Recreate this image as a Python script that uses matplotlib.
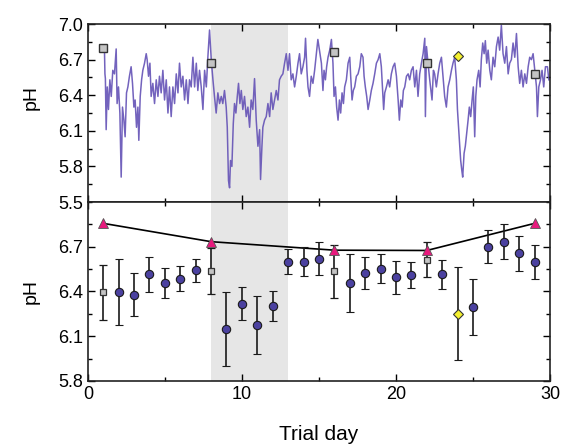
import numpy as np
import matplotlib
matplotlib.use("Agg")
import matplotlib.pyplot as plt
from matplotlib.ticker import MultipleLocator, FixedLocator

plt.rcParams['font.family'] = ['Liberation Sans', 'DejaVu Sans']

# continuous pH trace (top panel)
trace_day = [
    1.08, 1.11, 1.14, 1.19, 1.26, 1.34, 1.43, 1.52, 1.62, 1.73, 1.84, 1.90, 1.99, 2.08, 2.165,
    2.25, 2.34, 2.42, 2.51, 2.60, 2.70, 2.81, 2.90, 2.99, 3.07, 3.16, 3.25, 3.31, 3.40, 3.49,
    3.57, 3.68, 3.79, 3.85, 3.94, 4.03, 4.11, 4.22, 4.33, 4.44, 4.55, 4.65, 4.76, 4.87, 4.98,
    5.09, 5.20, 5.30, 5.41, 5.52, 5.63, 5.74, 5.85, 5.95, 6.06, 6.17, 6.28, 6.39, 6.50, 6.60,
    6.71, 6.82, 6.93, 7.04, 7.14, 7.25, 7.36, 7.47, 7.58, 7.69, 7.79, 7.90, 8.01, 8.12, 8.22,
    8.33, 8.44, 8.55, 8.66, 8.76, 8.87, 8.98, 9.05, 9.13, 9.20, 9.26, 9.35, 9.44, 9.52, 9.61,
    9.70, 9.78, 9.87, 9.96, 10.06, 10.17, 10.28, 10.39, 10.50, 10.60, 10.71, 10.82, 10.93, 11.04, 11.15,
    11.21, 11.30, 11.36, 11.47, 11.58, 11.69, 11.80, 11.90, 12.01, 12.12, 12.23, 12.34, 12.44, 12.55, 12.66,
    12.77, 12.88, 12.99, 13.09, 13.20, 13.31, 13.42, 13.53, 13.64, 13.74, 13.85, 13.96, 14.07, 14.13, 14.22,
    14.29, 14.39, 14.50, 14.61, 14.72, 14.83, 14.93, 15.16, 15.26, 15.33, 15.42, 15.50, 15.59, 15.70, 15.81,
    15.91, 15.98, 16.07, 16.15, 16.24, 16.33, 16.41, 16.50, 16.59, 16.67, 16.78, 16.89, 17.00, 17.06, 17.15,
    17.23, 17.32, 17.43, 17.54, 17.65, 17.75, 17.86, 17.93, 18.01, 18.10, 18.19, 18.30, 18.40, 18.51, 18.62,
    18.73, 18.84, 18.95, 19.05, 19.12, 19.20, 19.27, 19.38, 19.49, 19.59, 19.70, 19.81, 19.92, 20.03, 20.14,
    20.22, 20.31, 20.40, 20.48, 20.57, 20.68, 20.79, 20.89, 21.00, 21.11, 21.22, 21.33, 21.43, 21.54, 21.65,
    21.76, 21.87, 21.91, 21.98, 22.08, 22.19, 22.34, 22.43, 22.51, 22.62, 22.73, 22.84, 22.95, 23.05, 23.16,
    23.27, 23.38, 23.49, 23.60, 23.70, 23.81, 23.92, 23.99, 24.07, 24.14, 24.20, 24.27, 24.33, 24.42, 24.50,
    24.59, 24.68, 24.76, 24.85, 24.94, 25.02, 25.11, 25.18, 25.26, 25.37, 25.46, 25.54, 25.63, 25.72, 25.80,
    25.89, 25.98, 26.09, 26.19, 26.30, 26.41, 26.52, 26.63, 26.73, 26.84, 26.95, 27.06, 27.17, 27.28, 27.38,
    27.49, 27.60, 27.71, 27.82, 27.93, 28.03, 28.14, 28.25, 28.36, 28.47, 28.58, 28.68, 28.79, 28.90, 29.01,
    29.12, 29.18, 29.27, 29.38, 29.48, 29.59, 29.70, 29.83, 29.92,
]
trace_ph = [
    6.78, 6.58, 6.54, 6.11, 6.47, 6.28, 6.53, 6.39, 6.61, 6.58, 6.79, 6.33, 6.47, 6.25, 5.71,
    6.30, 6.19, 6.05, 6.42, 6.47, 6.56, 6.64, 6.50, 6.30, 6.36, 6.13, 6.30, 6.02, 6.39, 6.53,
    6.61, 6.67, 6.75, 6.70, 6.56, 6.67, 6.39, 6.50, 6.33, 6.53, 6.39, 6.56, 6.42, 6.61, 6.36,
    6.53, 6.25, 6.47, 6.22, 6.47, 6.33, 6.58, 6.42, 6.67, 6.47, 6.56, 6.36, 6.53, 6.33, 6.53,
    6.47, 6.72, 6.47, 6.67, 6.44, 6.61, 6.47, 6.28, 6.61, 6.47, 6.72, 6.95, 6.70, 6.53, 6.39,
    6.25, 6.42, 6.33, 6.39, 6.33, 6.44, 6.30, 6.13, 5.68, 5.62, 5.85, 5.80, 6.16, 6.33, 6.25,
    6.39, 6.50, 6.33, 6.44, 6.28, 6.39, 6.22, 6.30, 6.13, 6.36, 6.28, 6.54, 6.19, 5.97, 6.11,
    5.69, 5.97, 6.13, 6.19, 6.22, 6.33, 6.22, 6.42, 6.28, 6.36, 6.44, 6.36, 6.53, 6.56, 6.58,
    6.67, 6.75, 6.61, 6.75, 6.53, 6.58, 6.47, 6.56, 6.67, 6.75, 6.58, 6.64, 6.72, 6.88, 6.61,
    6.47, 6.39, 6.56, 6.50, 6.61, 6.75, 6.87, 6.67, 6.44, 6.61, 6.53, 6.64, 6.72, 6.78, 6.87,
    6.67, 6.39, 6.47, 6.30, 6.19, 6.36, 6.25, 6.42, 6.33, 6.47, 6.53, 6.67, 6.72, 6.56, 6.36,
    6.44, 6.47, 6.56, 6.58, 6.64, 6.75, 6.72, 6.56, 6.47, 6.39, 6.28, 6.36, 6.44, 6.50, 6.58,
    6.67, 6.70, 6.75, 6.64, 6.47, 6.28, 6.42, 6.47, 6.53, 6.47, 6.58, 6.64, 6.67, 6.56, 6.36,
    6.19, 6.36, 6.30, 6.44, 6.47, 6.56, 6.58, 6.53, 6.61, 6.64, 6.47, 6.61, 6.39, 6.58, 6.67,
    6.75, 6.88, 6.22, 6.81, 6.67, 6.53, 6.36, 6.61, 6.58, 6.47, 6.58, 6.67, 6.72, 6.56, 6.39,
    6.30, 6.47, 6.53, 6.61, 6.67, 6.72, 6.53, 6.28, 6.11, 5.97, 5.85, 5.77, 5.71, 5.91, 5.97,
    6.08, 6.19, 6.30, 6.22, 6.36, 6.47, 6.05, 6.39, 6.53, 6.61, 6.47, 6.70, 6.84, 6.75, 6.86,
    6.67, 6.78, 6.61, 6.53, 6.72, 6.64, 6.81, 6.89, 6.78, 6.99, 6.75, 6.67, 6.81, 6.58, 6.67,
    6.70, 6.84, 6.72, 6.92, 6.64, 6.50, 6.61, 6.47, 6.58, 6.50, 6.64, 6.72, 6.70, 6.75, 6.61,
    6.47, 6.22, 6.47, 6.53, 6.61, 6.47, 6.64, 6.64, 6.53,
]

# spot measurements on the top panel
top_sq_day = [1, 8, 16, 22, 29]
top_sq_ph = [6.795, 6.674, 6.764, 6.674, 6.58]
top_dia_day = [24]
top_dia_ph = [6.73]

# bottom panel: daily means with error bars
circ_day = [2, 3, 4, 5, 6, 7, 9, 10, 11, 12, 13, 14, 15, 17, 18, 19, 20, 21, 23, 25, 26, 27, 28, 29]
circ_ph = [6.395, 6.379, 6.514, 6.458, 6.487, 6.543, 6.148, 6.318, 6.177, 6.305, 6.601, 6.601,
           6.619, 6.458, 6.523, 6.554, 6.494, 6.509, 6.514, 6.296, 6.70, 6.734, 6.655, 6.597]
circ_err = [0.22, 0.145, 0.115, 0.10, 0.085, 0.077, 0.25, 0.112, 0.195, 0.10, 0.085, 0.10,
            0.11, 0.195, 0.107, 0.098, 0.108, 0.087, 0.10, 0.19, 0.11, 0.117, 0.118, 0.112]
sq_day = [1, 8, 16, 22]
sq_ph = [6.395, 6.536, 6.536, 6.613]
sq_err = [0.183, 0.156, 0.177, 0.117]
dia_day = [24]
dia_ph = [6.249]
dia_err = [0.312]
tri_day = [1, 8, 16, 22, 29]
tri_ph = [6.857, 6.734, 6.677, 6.675, 6.857]

shade = (8, 13)
top_ticks = [5.5, 5.8, 6.1, 6.4, 6.7, 7.0]
top_minor = [5.65, 5.95, 6.25, 6.55, 6.85]
bot_ticks = [5.8, 6.1, 6.4, 6.7]
bot_minor = [5.95, 6.25, 6.55, 6.85, 7.0]

fig = plt.figure(figsize=(5.63, 4.45), dpi=100)
ax1 = fig.add_axes([0.156, 0.546, 0.821, 0.400])
ax2 = fig.add_axes([0.156, 0.144, 0.821, 0.402])

for ax in (ax1, ax2):
    ax.axvspan(*shade, color='#e6e6e6', lw=0, zorder=0)
    ax.set_xlim(0, 30)
    ax.xaxis.set_major_locator(MultipleLocator(10))
    ax.xaxis.set_minor_locator(MultipleLocator(5))
    ax.tick_params(which='both', direction='in', top=True, right=True, width=1.0, labelsize=13)
    ax.tick_params(which='major', length=5)
    ax.tick_params(which='minor', length=3)
    for s in ax.spines.values():
        s.set_linewidth(1.2)
        s.set_color('#222222')

# top panel
ax1.plot(trace_day, trace_ph, color='#6452b6', lw=1.1, alpha=0.9, zorder=2)
ax1.plot(top_sq_day, top_sq_ph, ls='none', marker='s', ms=5.5, mfc='#c4c4c4', mec='#333333', mew=1.0, zorder=3)
ax1.plot(top_dia_day, top_dia_ph, ls='none', marker='D', ms=5.5, mfc='#f4f030', mec='#333333', mew=0.8, zorder=3)
ax1.set_ylim(5.5, 7.0)
ax1.yaxis.set_major_locator(FixedLocator(top_ticks))
ax1.yaxis.set_minor_locator(FixedLocator(top_minor))
ax1.tick_params(labelbottom=False)
ax1.set_ylabel('pH', fontsize=14)
ax1.yaxis.set_label_coords(-0.105, 0.59)

# bottom panel
ax2.plot(tri_day, tri_ph, color='black', lw=1.2, zorder=2)
ax2.errorbar(circ_day, circ_ph, yerr=circ_err, fmt='o', ms=6, mfc='#4b41a0', mec='#1a1a1a', mew=0.8,
             ecolor='#1a1a1a', elinewidth=1.2, capsize=3, capthick=1.2, zorder=3)
ax2.errorbar(sq_day, sq_ph, yerr=sq_err, fmt='s', ms=5, mfc='#c4c4c4', mec='#333333', mew=0.9,
             ecolor='#1a1a1a', elinewidth=1.2, capsize=3, capthick=1.2, zorder=3)
ax2.errorbar(dia_day, dia_ph, yerr=dia_err, fmt='D', ms=5, mfc='#f4f030', mec='#333333', mew=0.8,
             ecolor='#1a1a1a', elinewidth=1.2, capsize=3, capthick=1.2, zorder=3)
ax2.plot(tri_day, tri_ph, ls='none', marker='^', ms=7, mfc='#e8197d', mec='#555555', mew=0.6, zorder=4)
ax2.set_ylim(5.8, 7.0)
ax2.yaxis.set_major_locator(FixedLocator(bot_ticks))
ax2.yaxis.set_minor_locator(FixedLocator(bot_minor))
ax2.set_ylabel('pH', fontsize=14)
ax2.yaxis.set_label_coords(-0.105, 0.5)
ax2.set_xlabel('Trial day', fontsize=15)
ax2.xaxis.set_label_coords(0.5, -0.245)

fig.savefig('out.png', dpi=100)
